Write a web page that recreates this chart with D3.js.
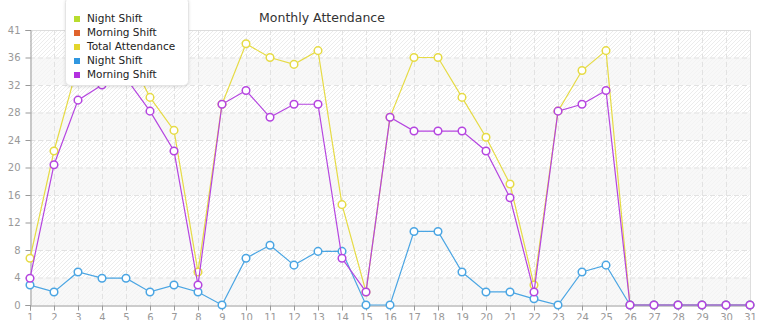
<!DOCTYPE html>
<html>
<head>
<meta charset="utf-8">
<script src="https://cdn.jsdelivr.net/npm/d3@7"></script>
<style>
  html, body { margin: 0; padding: 0; background: #fff; }
  svg { display: block; font-family: "DejaVu Sans", Verdana, sans-serif; }
</style>
</head>
<body>
<div id="chart"></div>
<script>
// Chart data
const days = d3.range(1, 32);
const totalAttendance = [6.8, 22.4, 35, 36, 37, 30.2, 25.4, 4.8, 29.2, 38, 36, 35, 37, 14.6, 1.9, 27.3,
  36, 36, 30.2, 24.4, 17.6, 2.9, 28.2, 34.1, 37, 0, 0, 0, 0, 0, 0];
const nightShift = [2.9, 1.9, 4.8, 3.9, 3.9, 1.9, 2.9, 1.9, 0, 6.8, 8.7, 5.8, 7.8, 7.8, 0, 0,
  10.7, 10.7, 4.8, 1.9, 1.9, 0.9, 0, 4.8, 5.8, 0, 0, 0, 0, 0, 0];
const morningShift = [3.9, 20.4, 29.8, 32, 33, 28.2, 22.4, 2.9, 29.2, 31.2, 27.3, 29.2, 29.2, 6.8, 1.9, 27.3,
  25.3, 25.3, 25.3, 22.4, 15.6, 1.9, 28.2, 29.2, 31.2, 0, 0, 0, 0, 0, 0];

const yTickValues = [0, 4, 8, 12, 16, 20, 24, 28, 32, 36, 40];
const yTickLabels = ["0", "4", "8", "12", "16", "20", "24", "28", "32", "36", "41"];

const legendNames = ["Night Shift", "Morning Shift", "Total Attendance", "Night Shift", "Morning Shift"];
const legendColors = ["#b8dc2e", "#e0632c", "#e3d52c", "#3097e0", "#b330e0"];

// series drawn in the plot (the first two legend entries have no points)
const series = [
  { name: "Total Attendance", values: totalAttendance, color: "#e6db45" },
  { name: "Night Shift", values: nightShift, color: "#4aa5e3" },
  { name: "Morning Shift", values: morningShift, color: "#b545e0" }
];

const width = 765, height = 320;
const margin = { left: 30, right: 15, top: 30, bottom: 15 };

const svg = d3.select("#chart").append("svg")
  .attr("width", width)
  .attr("height", height);

const x = d3.scaleLinear().domain([1, 31]).range([margin.left, width - margin.right]);
const y = d3.scaleLinear().domain([0, 40]).range([height - margin.bottom, margin.top]);

const defs = svg.append("defs");

// diagonal hatch for plot background
const hatch = defs.append("pattern")
  .attr("id", "hatch")
  .attr("patternUnits", "userSpaceOnUse")
  .attr("width", 4)
  .attr("height", 4);
hatch.append("rect").attr("width", 4).attr("height", 4).attr("fill", "#fff");
hatch.append("path")
  .attr("d", "M-1,1 l2,-2 M0,4 l4,-4 M3,5 l2,-2")
  .attr("stroke", "#ececec")
  .attr("stroke-width", 1);

const shadow = defs.append("filter")
  .attr("id", "shadow")
  .attr("x", "-20%").attr("y", "-20%")
  .attr("width", "140%").attr("height", "140%");
shadow.append("feDropShadow")
  .attr("dx", 0).attr("dy", 1)
  .attr("stdDeviation", 1.5)
  .attr("flood-color", "#000")
  .attr("flood-opacity", 0.12);

const plotW = x(31) - x(1);
const plotH = y(0) - y(40);

// background
svg.append("rect")
  .attr("x", x(1)).attr("y", y(40))
  .attr("width", plotW).attr("height", plotH)
  .attr("fill", "url(#hatch)");

// alternate bands
const bands = [[32, 36], [24, 28], [16, 20], [8, 12], [0, 4]];
svg.append("g").selectAll("rect")
  .data(bands)
  .join("rect")
  .attr("x", x(1))
  .attr("y", d => y(d[1]))
  .attr("width", plotW)
  .attr("height", d => y(d[0]) - y(d[1]))
  .attr("fill", "#f6f6f6")
  .attr("fill-opacity", 0.75);

// grid
const grid = svg.append("g")
  .attr("stroke", "#e2e2e2")
  .attr("stroke-dasharray", "5,3");
grid.selectAll(".h")
  .data(yTickValues.filter(v => v > 0 && v < 40))
  .join("line")
  .attr("x1", x(1)).attr("x2", x(31))
  .attr("y1", d => y(d) + 0.5).attr("y2", d => y(d) + 0.5);
grid.selectAll(".v")
  .data(days.filter(d => d > 1 && d < 31))
  .join("line")
  .attr("y1", y(40)).attr("y2", y(0))
  .attr("x1", d => x(d) + 0.5).attr("x2", d => x(d) + 0.5);

// top and right border
svg.append("path")
  .attr("d", `M${x(1)},${y(40) + 0.5}H${x(31) + 0.5}V${y(0)}`)
  .attr("fill", "none")
  .attr("stroke", "#dddddd");

// axes
const yAxis = d3.axisLeft(y)
  .tickValues(yTickValues)
  .tickFormat((d, i) => yTickLabels[i])
  .tickSize(5)
  .tickPadding(5);
const xAxis = d3.axisBottom(x)
  .tickValues(days)
  .tickFormat(d3.format("d"))
  .tickSize(5)
  .tickPadding(3);

const gy = svg.append("g")
  .attr("transform", `translate(${x(1) + 0.5},0)`)
  .call(yAxis);
const gx = svg.append("g")
  .attr("transform", `translate(0,${y(0) + 0.5})`)
  .call(xAxis);

[gx, gy].forEach(g => {
  g.select(".domain").attr("stroke", "#999");
  g.selectAll(".tick line").attr("stroke", "#999");
  g.selectAll(".tick text")
    .attr("fill", "#999")
    .style("font-family", "DejaVu Sans, Verdana, sans-serif")
    .style("font-size", "10px");
});

// lines and markers
const line = d3.line()
  .x((d, i) => x(days[i]))
  .y(d => y(d));

series.forEach(s => {
  const g = svg.append("g");
  g.append("path")
    .datum(s.values)
    .attr("d", line)
    .attr("fill", "none")
    .attr("stroke", s.color)
    .attr("stroke-width", 1.2);
  g.selectAll("circle")
    .data(s.values)
    .join("circle")
    .attr("cx", (d, i) => x(days[i]))
    .attr("cy", d => y(d))
    .attr("r", 3.8)
    .attr("fill", "#fff")
    .attr("stroke", s.color)
    .attr("stroke-width", 1.5);
});

// title
svg.append("text")
  .attr("x", 322)
  .attr("y", 22)
  .attr("text-anchor", "middle")
  .attr("fill", "#333")
  .style("font-size", "12.5px")
  .text("Monthly Attendance");

// legend
const legend = svg.append("g");
legend.append("rect")
  .attr("x", 65.5).attr("y", -2.5)
  .attr("width", 123).attr("height", 88)
  .attr("rx", 5)
  .attr("fill", "#fff")
  .attr("stroke", "#e4e4e4")
  .attr("filter", "url(#shadow)");

const items = legend.selectAll(".item")
  .data(legendNames)
  .join("g")
  .attr("transform", (d, i) => `translate(74,${22 + i * 14})`);
items.append("rect")
  .attr("x", 0).attr("y", -6)
  .attr("width", 6).attr("height", 6)
  .attr("fill", (d, i) => legendColors[i]);
items.append("text")
  .attr("x", 13)
  .attr("y", 0)
  .attr("fill", "#222")
  .style("font-size", "10.5px")
  .text(d => d);
</script>
</body>
</html>
